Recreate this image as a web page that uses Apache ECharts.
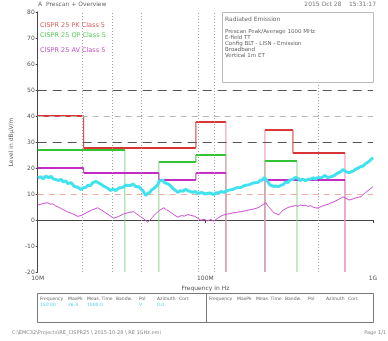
<!DOCTYPE html>
<html><head><meta charset="utf-8">
<script src="https://cdn.jsdelivr.net/npm/echarts@6/dist/echarts.min.js"></script>
<style>html,body{margin:0;padding:0;background:#fff}#c{width:388px;height:341px}</style>
</head><body><div id="c"></div>
<script>
// ---- data ----
const xTickLabels = {10: '10M', 100: '100M', 1000: '1G'};
const yMin = -20, yMax = 80, yStep = 10;
// MaxPeak trace (freq MHz, level dBµV/m)
const peakTrace = [[10,16.2],[10.4,16.6],[10.8,15.9],[11.2,16.9],[11.6,16.2],[12.0,16.8],[12.4,15.8],[12.7,16.1],[13.4,15.2],[13.8,15.7],[14.2,14.6],[14.7,15.1],[15.1,14.0],[15.8,14.4],[16.5,13.0],[17.3,12.6],[18.1,11.7],[18.7,12.4],[19.3,12.5],[20.0,13.4],[20.7,13.3],[21.3,14.4],[21.8,14.1],[22.3,14.8],[22.8,14.4],[23.8,13.8],[24.8,13.0],[26.0,12.3],[27.3,11.3],[28.2,11.9],[29.2,11.3],[30.5,12.3],[32.0,12.5],[33.8,13.4],[35.9,13.3],[37.0,13.9],[38.5,12.8],[40.0,12.9],[41.2,12.0],[42.5,11.2],[44.1,9.4],[45.2,10.2],[46.5,10.6],[48.0,11.6],[49.3,11.3],[50.7,12.8],[52.0,13.6],[53.0,14.9],[54.3,14.8],[55.6,15.4],[57.0,14.4],[58.3,14.7],[59.7,13.9],[62.0,13.2],[64.0,12.1],[66.0,11.5],[68.5,10.6],[71.0,11.3],[73.5,11.0],[76.0,11.8],[78.6,11.3],[81.0,11.0],[84.0,10.6],[87.0,11.0],[90.2,10.2],[95.0,10.6],[100,10.0],[106,10.4],[112.4,9.8],[116,10.5],[120,10.4],[124,11.0],[128.9,10.6],[136,11.4],[145,11.7],[153,12.4],[162.9,12.5],[172,13.3],[183,13.6],[194,14.3],[205.8,14.4],[213,15.3],[220,15.4],[225,16.4],[229.7,16.3],[234,15.0],[238,14.8],[242,13.6],[246.0,13.9],[252,13.0],[260,13.1],[267,12.5],[274.8,12.9],[283,13.4],[292,13.6],[300,14.6],[310.9,14.4],[321,15.5],[333,15.6],[344,16.4],[356.6,16.0],[369,15.2],[382,15.8],[395,15.1],[409.3,15.6],[425,15.8],[440,16.2],[455,15.7],[469.5,16.4],[492,16.2],[515,17.1],[538,16.3],[561.4,16.7],[585,17.0],[610,17.9],[636,18.4],[662.3,19.4],[680,18.7],[700,18.4],[720,18.2],[739.1,18.3],[765,18.9],[790,19.6],[818,20.0],[848.1,20.6],[875,20.8],[900,21.6],[923,21.8],[946.5,22.5],[972,23.0],[1000,24.0]];
// Average trace
const avgTrace = [[10,5.8],[10.4,6.0],[10.8,6.4],[11.1,6.0],[11.5,6.6],[11.9,6.1],[12.3,6.2],[12.8,5.4],[13.2,5.1],[14.0,4.2],[15.0,3.2],[16.0,2.5],[17.3,1.4],[18.3,1.8],[19.5,2.8],[21.0,3.8],[22.8,4.7],[24.0,3.8],[25.5,2.7],[27.0,1.6],[28.4,0.7],[30.3,1.3],[32.5,2.3],[35.0,2.9],[37.4,3.2],[39.0,2.3],[41.0,1.3],[43.0,0.4],[45.4,-0.9],[48.0,0.8],[50.5,2.4],[53.5,3.8],[56.5,4.7],[58.5,4.0],[61.0,3.3],[65.0,2.0],[68.5,1.1],[72.0,1.7],[75.0,1.5],[78.5,2.1],[81.9,1.8],[84.0,2.4],[86.5,1.4],[90.0,0.7],[94.0,-0.1],[98.0,0.3],[103,-0.3],[108,0.2],[112.4,-0.5],[116,0.3],[120,0.9],[124,1.5],[128.9,2.0],[136,2.3],[145,2.7],[153,2.9],[162.9,3.2],[172,3.5],[183,3.9],[194,4.2],[205.8,4.7],[213,5.2],[220,5.9],[225,6.2],[229.7,6.7],[234,5.7],[238,5.0],[246.0,4.1],[252,3.2],[260,2.6],[267,2.2],[274.8,2.0],[283,3.0],[292,3.9],[300,4.5],[310.9,4.8],[321,5.1],[333,5.3],[344,5.6],[356.6,5.3],[369,5.8],[382,5.5],[395,5.7],[409.3,5.2],[425,5.5],[440,4.9],[455,4.7],[469.5,4.6],[492,5.2],[515,5.7],[538,6.0],[561.4,6.6],[585,7.0],[610,7.6],[636,8.2],[662.3,8.9],[680,8.3],[700,8.1],[720,7.7],[739.1,7.8],[765,8.2],[790,8.5],[818,8.7],[848.1,9.0],[875,9.8],[900,10.5],[923,11.0],[946.5,11.6],[972,12.2],[1000,12.8]];
// Limit lines: [startFreq, endFreq, level]
const pkLimit = [[10,18.8,40],[18.8,87.8,27.7],[87.8,132.6,37.7],[226.6,333,34.6],[333,680.6,25.8]];
const qpLimit = [[10,33.1,26.9],[52.8,87.8,22.3],[87.8,132.6,25.0],[226.6,352,22.7]];
const avLimit = [[10,18.8,20],[18.8,52.8,18.1],[52.8,87.8,15.4],[87.8,132.6,18.1],[226.6,680.6,15.4]];
const darkRefLevels = [50, 30];
const lightRefLevels = [40];
const pinkRefLevels = [10];
const markerFreqs = [18.5, 28.0, 41.2, 90.2, 112.4, 469.5];
const legendTexts = ['CISPR 25 PK Class 5', 'CISPR 25 QP Class 5', 'CISPR 25 AV Class 5'];
const infoTitle = 'Radiated Emission';
const infoLines = ['Prescan Peak/Average 1000 MHz', 'E-field TT', 'Config BLT - LISN - Emission', 'Broadband', 'Vertical 1m ET'];
const tableHeader = ['Frequency', 'MaxPk', 'Meas. Time', 'Bandw.', 'Pol', 'Azimuth', 'Corr.'];
const tableHeaderOffsets = [3, 31, 50, 79, 102, 120, 142];
const tableRow = ['150.00', '26.4', '1000.0', '', 'V', '0.0'];
const chartTitle = 'Prescan + Overview';
const dateText = '2015 Oct 28    15:31:17';
const footerLeft = 'C:\\EMC32\\Projects\\RE_CISPR25 \\ 2015-10-28 \\ RE 1GHz.emi';
const footerRight = 'Page 1/1';

// ---- build ----
const FONT = 'DejaVu Sans';
const series = [];
function addLimit(steps, color, dropColor) {
  steps.forEach((s, i) => {
    series.push({type:'line', data:[[s[0], s[2]], [s[1], s[2]]], symbol:'none', silent:true,
      lineStyle:{color:color, width:2}, z:4});
    const prev = steps[i-1], next = steps[i+1];
    if (prev && prev[1] === s[0]) {
      series.push({type:'line', data:[[s[0], prev[2]], [s[0], s[2]]], symbol:'none', silent:true,
        lineStyle:{color:color, width:1}, z:3});
    } else if (s[0] > 10) {
      series.push({type:'line', data:[[s[0], yMin], [s[0], s[2]]], symbol:'none', silent:true,
        lineStyle:{color:dropColor, width:1}, z:2});
    }
    if (!(next && next[0] === s[1]) && s[1] < 1000) {
      series.push({type:'line', data:[[s[1], s[2]], [s[1], yMin]], symbol:'none', silent:true,
        lineStyle:{color:dropColor, width:1}, z:2});
    }
  });
}
series.push({type:'line', data:[], silent:true, markLine:{symbol:'none', silent:true, label:{show:false},
  data:[
    ...darkRefLevels.map(v => ({yAxis:v, lineStyle:{color:'#555', type:[9,6], width:1}})),
    ...lightRefLevels.map(v => ({yAxis:v, lineStyle:{color:'#b8b8b8', type:[6,5], width:1}})),
    ...pinkRefLevels.map(v => ({yAxis:v, lineStyle:{color:'#eab0a8', type:[6,5], width:1}})),
    ...markerFreqs.map(f => ({xAxis:f, lineStyle:{color:'#a0a0a0', type:[1,2], width:1}}))
  ]}, z:1});
addLimit(avLimit, '#c42bc4', '#e08ae0');
addLimit(qpLimit, '#33c433', '#8cd88c');
addLimit(pkLimit, '#d93535', '#ec8fb8');
series.push({type:'line', data:peakTrace, symbol:'none', silent:true, lineStyle:{color:'#3fe2ee', width:3}, z:5});
series.push({type:'line', data:avgTrace, symbol:'none', silent:true, lineStyle:{color:'#c94fcf', width:1}, z:5});

const graphic = [
  {type:'text', left:38, top:1, style:{text:'A  ' + chartTitle, fontSize:6, fill:'#666', fontFamily:FONT}},
  {type:'text', right:12, top:1, style:{text:dateText, fontSize:6, fill:'#777', fontFamily:FONT}},
  {type:'text', left:40, top:22, style:{text:legendTexts[0], fontSize:6.5, fill:'#e06060', fontFamily:FONT}},
  {type:'text', left:40, top:32, style:{text:legendTexts[1], fontSize:6.5, fill:'#5ccc5c', fontFamily:FONT}},
  {type:'text', left:40, top:47, style:{text:legendTexts[2], fontSize:6.5, fill:'#c850c8', fontFamily:FONT}},
  {type:'rect', shape:{x:222.5, y:12.5, width:151, height:70}, style:{fill:'#fff', stroke:'#bbb', lineWidth:1}, z:10},
  {type:'text', left:225, top:16, z:11, style:{text:infoTitle, fontSize:6, fill:'#666', fontFamily:FONT}},
  ...infoLines.map((t, i) => ({type:'text', left:225, top:29 + i*6, z:11, style:{text:t, fontSize:5.5, fill:'#666', fontFamily:FONT}})),
  {type:'rect', shape:{x:37.5, y:293.5, width:336, height:29}, style:{fill:'none', stroke:'#777', lineWidth:1}},
  {type:'line', shape:{x1:206.5, y1:293.5, x2:206.5, y2:322.5}, style:{stroke:'#777', lineWidth:1}},
  ...[37, 206].flatMap(x0 => tableHeader.map((t, i) => ({type:'text', left:x0 + tableHeaderOffsets[i], top:296,
    style:{text:t, fontSize:4.5, fill:'#666', fontFamily:FONT}}))),
  ...tableRow.map((t, i) => ({type:'text', left:37 + tableHeaderOffsets[i], top:302,
    style:{text:t, fontSize:4.5, fill:'#4fd0e0', fontFamily:FONT}})),
  {type:'text', left:12, top:330, style:{text:footerLeft, fontSize:5, fill:'#888', fontFamily:FONT}},
  {type:'text', right:2, top:330, style:{text:footerRight, fontSize:5, fill:'#888', fontFamily:FONT}}
];

const chart = echarts.init(document.getElementById('c'), null, {renderer:'canvas'});
chart.setOption({
  animation:false,
  backgroundColor:'#fff',
  grid:{left:37, right:15, top:12, bottom:69},
  xAxis:{type:'log', logBase:10, min:10, max:1000,
    name:'Frequency in Hz', nameLocation:'middle', nameGap:11,
    nameTextStyle:{fontSize:6, color:'#555', fontFamily:FONT},
    axisLine:{lineStyle:{color:'#444'}}, axisTick:{show:true, length:3, lineStyle:{color:'#444'}},
    axisLabel:{fontSize:6, color:'#555', margin:3, fontFamily:FONT, formatter:v => xTickLabels[Math.round(v)] || ''},
    splitLine:{show:false}, minorTick:{show:false}},
  yAxis:{type:'value', min:yMin, max:yMax, interval:yStep,
    name:'Level in dBµV/m', nameLocation:'middle', nameGap:14, nameRotate:90,
    nameTextStyle:{fontSize:6, color:'#666', fontFamily:FONT},
    axisLine:{show:true, lineStyle:{color:'#444'}}, axisTick:{show:true, length:2, lineStyle:{color:'#444'}},
    axisLabel:{fontSize:6, color:'#555', margin:3, fontFamily:FONT},
    splitLine:{show:false}},
  series:series,
  graphic:graphic
});
</script></body></html>
